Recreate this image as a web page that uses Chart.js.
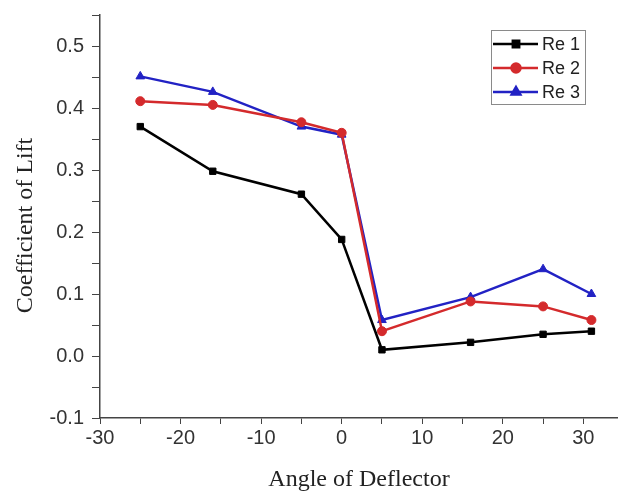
<!DOCTYPE html>
<html>
<head>
<meta charset="utf-8">
<script src="https://cdn.jsdelivr.net/npm/chart.js@4.4.1/dist/chart.umd.min.js"></script>
<style>
  html, body { margin: 0; padding: 0; background: #fff; }
  #wrap { width: 618px; height: 494px; }
</style>
</head>
<body>
<div id="wrap"><canvas id="chart" width="618" height="494"></canvas></div>
<script>
// angle of deflector (deg)
const angles = [-25, -16, -5, 0, 5, 16, 25, 31];

// lift coefficient for each Re
const re1 = [0.370, 0.298, 0.261, 0.188, 0.010, 0.022, 0.035, 0.040];
const re2 = [0.411, 0.405, 0.377, 0.360, 0.040, 0.088, 0.080, 0.058];
const re3 = [0.451, 0.426, 0.370, 0.357, 0.058, 0.095, 0.140, 0.100];

const seriesNames = ['Re 1', 'Re 2', 'Re 3'];
const seriesColors = ['#000000', '#d42a2c', '#2222c4'];
const seriesMarkers = ['rect', 'circle', 'triangle'];

const toPoints = vals => vals.map((v, i) => ({ x: angles[i], y: v }));

const datasets = [re1, re2, re3].map((vals, i) => ({
  label: seriesNames[i],
  data: toPoints(vals),
  borderColor: seriesColors[i],
  backgroundColor: seriesColors[i],
  borderWidth: 2.5,
  pointStyle: seriesMarkers[i],
  pointRadius: i === 2 ? 5 : 4.5,
  pointBorderWidth: 1,
  tension: 0
}));

// legend box drawn inside the plot, line + marker like the original
const insideLegend = {
  id: 'insideLegend',
  afterDraw(chart) {
    const ctx = chart.ctx;
    const bx = 491, by = 30, bw = 94, bh = 74;
    ctx.save();
    ctx.strokeStyle = '#8a8a8a';
    ctx.lineWidth = 1;
    ctx.strokeRect(bx + 0.5, by + 0.5, bw, bh);
    ctx.font = '18px "Liberation Sans", Arial, sans-serif';
    ctx.textBaseline = 'middle';
    chart.data.datasets.forEach((ds, i) => {
      const y = by + 14 + i * 24;
      ctx.strokeStyle = ds.borderColor;
      ctx.lineWidth = 2.5;
      ctx.beginPath();
      ctx.moveTo(bx + 2, y);
      ctx.lineTo(bx + 47, y);
      ctx.stroke();
      Chart.helpers.drawPoint(ctx, {
        pointStyle: ds.pointStyle,
        radius: ds.pointRadius,
        borderWidth: 1,
        rotation: 0
      }, bx + 25, y);
      ctx.fillStyle = ds.borderColor;
      ctx.fill();
      ctx.fillStyle = '#222';
      ctx.fillText(ds.label, bx + 51, y + 1);
    });
    ctx.restore();
  }
};

const tickFont = { family: '"Liberation Sans", Arial, sans-serif', size: 20 };
const titleFont = { family: '"Liberation Serif", "Times New Roman", serif', size: 24 };

new Chart(document.getElementById('chart'), {
  type: 'line',
  data: { datasets },
  options: {
    responsive: false,
    animation: false,
    layout: { autoPadding: false, padding: { top: 15, right: 0, left: 0, bottom: 0 } },
    plugins: {
      legend: { display: false },
      tooltip: { enabled: false }
    },
    scales: {
      x: {
        type: 'linear',
        min: -30,
        max: 34.3,
        afterFit: s => { s.height = 76; s.paddingLeft = 0; s.paddingRight = 0; },
        border: { display: true, color: '#444', width: 1.5 },
        grid: { drawOnChartArea: false, drawTicks: true, tickLength: 6, color: '#444' },
        ticks: {
          stepSize: 5,
          includeBounds: false,
          autoSkip: false,
          maxRotation: 0,
          color: '#333',
          font: tickFont,
          padding: 2,
          callback: v => (Math.round(v) % 10 === 0 ? String(v) : '')
        },
        title: {
          display: true,
          text: 'Angle of Deflector',
          color: '#222',
          font: titleFont,
          padding: { top: 0, bottom: 0 }
        }
      },
      y: {
        min: -0.1,
        max: 0.55,
        afterFit: s => { s.width = 100; s.paddingTop = 0; s.paddingBottom = 0; },
        border: { display: true, color: '#444', width: 1.5 },
        grid: { drawOnChartArea: false, drawTicks: true, tickLength: 8, color: '#444' },
        ticks: {
          stepSize: 0.05,
          includeBounds: false,
          autoSkip: false,
          color: '#333',
          font: tickFont,
          padding: 8,
          callback: v => (Math.round(v * 100) % 10 === 0 ? v.toFixed(1) : '')
        },
        title: {
          display: true,
          // trailing spaces nudge the text toward the bottom like the original
          text: 'Coefficient of Lift\u00a0\u00a0\u00a0',
          color: '#222',
          font: titleFont,
          padding: { top: 11, bottom: 0 }
        }
      }
    }
  },
  plugins: [insideLegend]
});
</script>
</body>
</html>
